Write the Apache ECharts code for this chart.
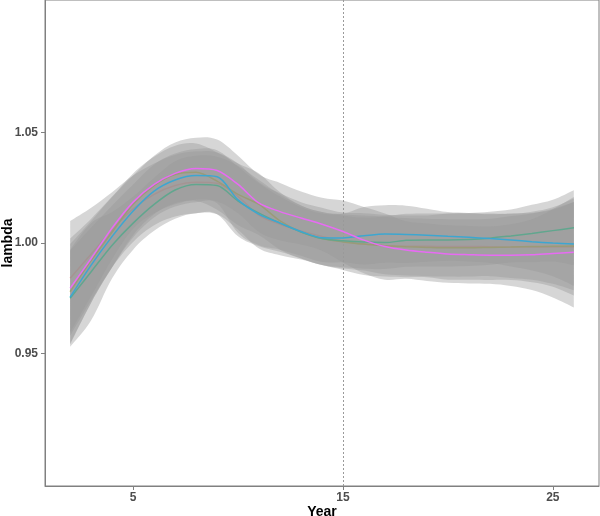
<!DOCTYPE html>
<html>
<head>
<meta charset="utf-8">
<script src="https://cdn.jsdelivr.net/npm/echarts@6/dist/echarts.min.js"></script>
<style>html,body{margin:0;padding:0;background:#fff}#c{width:600px;height:516px}</style>
</head>
<body>
<div id="c"></div>
<script>
var years = [2,3,4,5,6,7,8,9,10,11,12,13,14,15,16,17,18,19,20,21,22,23,24,25,26];
var xTicks = [5, 15, 25];
var yTicks = [0.95, 1.00, 1.05];
var seriesNames = ['A', 'B', 'C', 'D', 'E'];
var seriesColors = ['#F8766D', '#A3A500', '#00BF7D', '#00B0F6', '#E76BF3'];

var lineRed   = [0.984,0.995,1.006,1.0155,1.022,1.026,1.0275,1.027,1.021,1.0125,1.0085,1.0055,1.003,1.0008,0.9995,0.9988,0.9985,0.9985,0.9984,0.9984,0.9983,0.9982,0.9982,0.9982,0.9982];
var lineOlive = [0.978,0.992,1.005,1.0175,1.026,1.031,1.032,1.028,1.022,1.0175,1.010,1.005,1.002,1.0005,0.9995,0.9988,0.9983,0.998,0.9978,0.9978,0.998,0.9982,0.9984,0.9985,0.9986];
var lineGreen = [0.975,0.987,0.999,1.009,1.0175,1.024,1.0265,1.026,1.019,1.0135,1.009,1.005,1.002,1.001,1.0004,1.0002,1.0012,1.0014,1.0014,1.0016,1.0022,1.0032,1.0043,1.0056,1.0069];
var lineBlue  = [0.9755,0.990,1.003,1.0145,1.0235,1.0285,1.0305,1.030,1.0195,1.013,1.009,1.0052,1.0024,1.0023,1.0033,1.0041,1.0039,1.0035,1.003,1.0026,1.002,1.0014,1.0006,1.000,0.9996];
var lineMag   = [0.9795,0.993,1.0068,1.0185,1.0265,1.0315,1.0337,1.0328,1.0265,1.018,1.0142,1.0113,1.0085,1.0052,1.0013,0.9984,0.9968,0.9958,0.995,0.9947,0.9945,0.9945,0.9947,0.9953,0.9958];

var hwRed   = [0.026,0.021,0.017,0.015,0.014,0.014,0.014,0.014,0.015,0.015,0.014,0.013,0.013,0.013,0.014,0.014,0.014,0.014,0.015,0.015,0.015,0.015,0.016,0.018,0.022];
var hwOlive = [0.024,0.019,0.016,0.014,0.013,0.013,0.013,0.013,0.014,0.014,0.013,0.012,0.012,0.012,0.012,0.013,0.013,0.013,0.013,0.013,0.013,0.014,0.015,0.017,0.020];
var hwGreen = [0.022,0.022,0.015,0.012,0.012,0.013,0.013,0.013,0.016,0.015,0.013,0.012,0.012,0.012,0.012,0.012,0.012,0.012,0.012,0.012,0.012,0.012,0.013,0.014,0.017];
var hwBlue  = [0.021,0.017,0.014,0.012,0.012,0.012,0.012,0.012,0.015,0.014,0.012,0.011,0.011,0.011,0.013,0.013,0.013,0.012,0.011,0.011,0.011,0.012,0.013,0.015,0.019];
var hwMag   = [0.020,0.017,0.014,0.012,0.013,0.014,0.014,0.014,0.013,0.013,0.013,0.012,0.012,0.014,0.015,0.015,0.013,0.013,0.013,0.013,0.013,0.014,0.016,0.020,0.025];

var lines = [lineRed, lineOlive, lineGreen, lineBlue, lineMag];
var hws = [hwRed, hwOlive, hwGreen, hwBlue, hwMag];

var FONT = '"Liberation Sans", Arial, sans-serif';

function splinePath(pts) {
  var d = '';
  var t = 0.18;
  for (var i = 0; i < pts.length - 1; i++) {
    var p0 = pts[Math.max(i - 1, 0)], p1 = pts[i], p2 = pts[i + 1], p3 = pts[Math.min(i + 2, pts.length - 1)];
    var c1x = p1[0] + (p2[0] - p0[0]) * t, c1y = p1[1] + (p2[1] - p0[1]) * t;
    var c2x = p2[0] - (p3[0] - p1[0]) * t, c2y = p2[1] - (p3[1] - p1[1]) * t;
    d += ' C' + c1x + ',' + c1y + ' ' + c2x + ',' + c2y + ' ' + p2[0] + ',' + p2[1];
  }
  return d;
}

var series = [];
lines.forEach(function (ln, i) {
  var bandData = years.map(function (y, k) { return [y, ln[k] - hws[i][k], ln[k] + hws[i][k]]; });
  series.push({
    type: 'custom', name: seriesNames[i] + '_band', silent: true, z: 11 + 3 * i, clip: true,
    data: bandData,
    encode: { x: 0, y: [1, 2] },
    renderItem: function (params, api) {
      if (params.dataIndex !== 0) return null;
      var up = bandData.map(function (d) { return api.coord([d[0], d[2]]); });
      var lo = bandData.map(function (d) { return api.coord([d[0], d[1]]); }).reverse();
      var path = 'M' + up[0][0] + ',' + up[0][1] + splinePath(up) +
        ' L' + lo[0][0] + ',' + lo[0][1] + splinePath(lo) + ' Z';
      return {
        type: 'path',
        shape: { pathData: path },
        style: { fill: '#999999', opacity: 0.4, stroke: null }
      };
    }
  });
  series.push({
    type: 'line', name: seriesNames[i], smooth: 0.3, symbol: 'none', silent: true,
    z: 12 + 3 * i,
    lineStyle: { color: seriesColors[i], width: 1.5 },
    data: years.map(function (y, k) { return [y, ln[k]]; })
  });
});
series.push({
  type: 'line', data: [], z: 40, silent: true,
  markLine: {
    silent: true, symbol: ['none', 'none'], label: { show: false },
    lineStyle: { color: '#9a9a9a', width: 1, type: [2, 2] },
    data: [{ xAxis: 15 }]
  }
});

var chart = echarts.init(document.getElementById('c'), null, { renderer: 'canvas' });
chart.setOption({
  animation: false,
  backgroundColor: '#ffffff',
  grid: { left: 45, right: 1, top: 0, bottom: 30, containLabel: false, outerBoundsMode: 'none',
    show: true, borderColor: '#808080', borderWidth: 1, backgroundColor: 'transparent' },
  xAxis: {
    type: 'value', min: 0.8, max: 27.2,
    name: 'Year', nameLocation: 'middle', nameGap: 19, nameMoveOverlap: false,
    nameTextStyle: { fontFamily: FONT, fontSize: 14, fontWeight: 'bold', color: '#000' },
    axisLine: { show: true, lineStyle: { color: '#808080', width: 1 } },
    axisTick: { show: true, customValues: xTicks, length: 4, lineStyle: { color: '#808080' } },
    axisLabel: { customValues: xTicks, fontFamily: FONT, fontSize: 12, fontWeight: 'bold', color: '#4d4d4d', margin: 6 },
    splitLine: { show: false }
  },
  yAxis: {
    type: 'value', min: 0.89, max: 1.11,
    name: 'lambda', nameLocation: 'middle', nameGap: 30, nameMoveOverlap: false,
    nameTextStyle: { fontFamily: FONT, fontSize: 14, fontWeight: 'bold', color: '#000' },
    axisLine: { show: true, lineStyle: { color: '#808080', width: 1 } },
    axisTick: { show: true, customValues: yTicks, length: 4, lineStyle: { color: '#808080' } },
    axisLabel: { customValues: yTicks, fontFamily: FONT, fontSize: 12, fontWeight: 'bold', color: '#4d4d4d', margin: 7,
      formatter: function (v) { return v.toFixed(2); } },
    splitLine: { show: false }
  },
  series: series
});
</script>
</body>
</html>
